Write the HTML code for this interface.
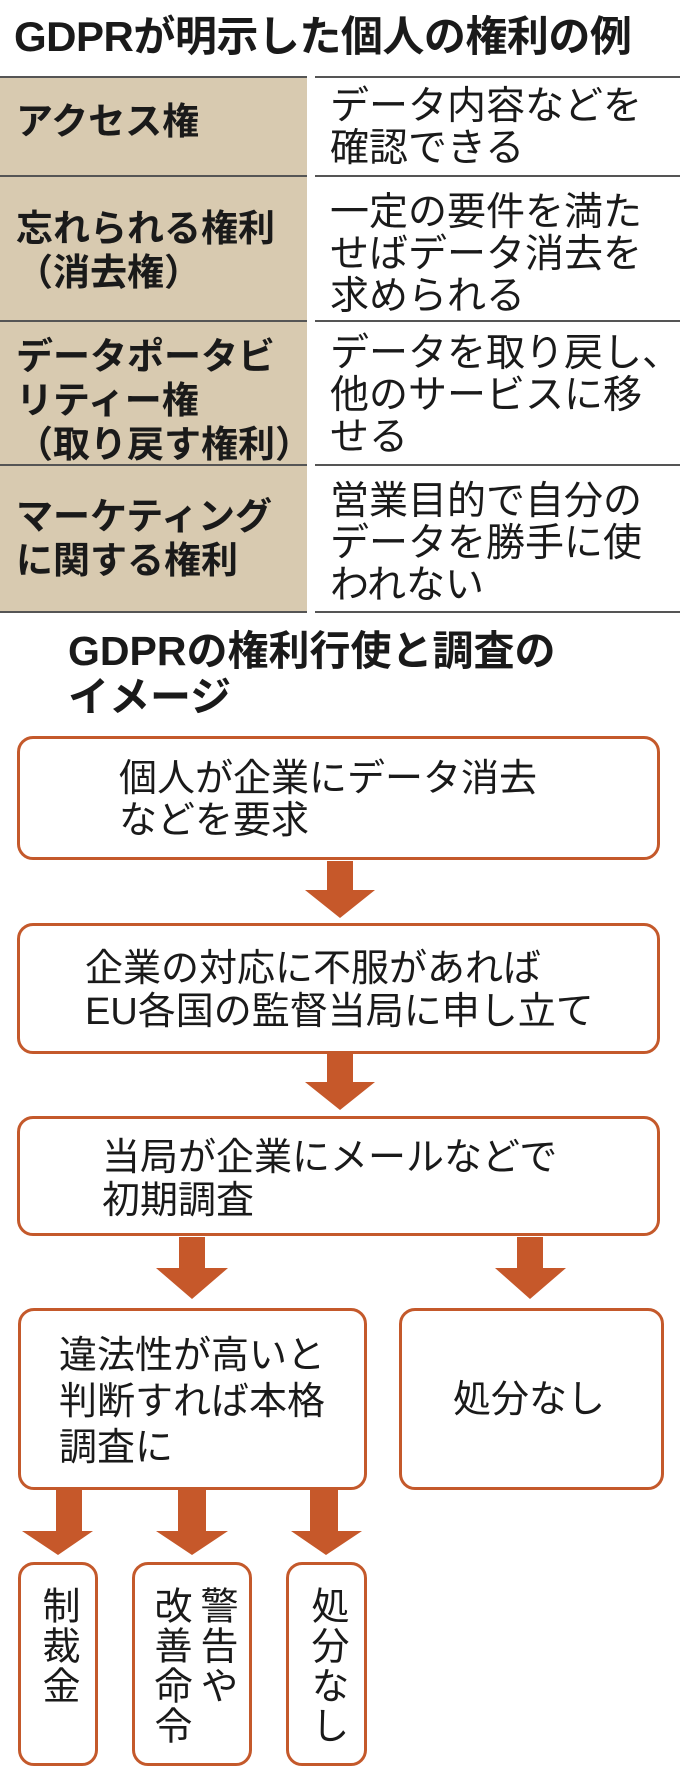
<!DOCTYPE html>
<html><head><meta charset="utf-8"><style>
body{margin:0;width:680px;height:1785px;background:#fff;position:relative;overflow:hidden;font-family:"Liberation Sans","Noto Sans CJK JP",sans-serif;color:#1a1a1a}
.a{position:absolute;white-space:nowrap}
.t{font-size:39px;line-height:42px}
.l{font-size:37px;line-height:44px;font-weight:bold}
.box{position:absolute;border:3px solid #c4592b;border-radius:16px;box-sizing:border-box;background:#fff}
.hl{position:absolute;height:2px;background:#555}
.v{position:absolute;writing-mode:vertical-rl;font-size:38px;line-height:46px;letter-spacing:2px}
</style></head><body>
<div class="a" style="left:14px;top:12px;font-size:42px;line-height:50px;font-weight:bold;letter-spacing:-0.5px">GDPRが明示した個人の権利の例</div>
<div style="position:absolute;left:0;top:76px;width:307px;height:537px;background:#d8cab0"></div>
<div class="hl" style="left:0;top:76px;width:307px"></div><div class="hl" style="left:315px;top:76px;width:365px"></div>
<div class="hl" style="left:0;top:175px;width:307px"></div><div class="hl" style="left:315px;top:175px;width:365px"></div>
<div class="hl" style="left:0;top:320px;width:307px"></div><div class="hl" style="left:315px;top:320px;width:365px"></div>
<div class="hl" style="left:0;top:464px;width:307px"></div><div class="hl" style="left:315px;top:464px;width:365px"></div>
<div class="hl" style="left:0;top:611px;width:307px"></div><div class="hl" style="left:315px;top:611px;width:365px"></div>

<div class="a l" style="left:16px;top:100px">アクセス権</div>
<div class="a t" style="left:330px;top:86px">データ内容などを<br>確認できる</div>
<div class="a l" style="left:16px;top:207px">忘れられる権利<br>（消去権）</div>
<div class="a t" style="left:330px;top:192px">一定の要件を満た<br>せばデータ消去を<br>求められる</div>
<div class="a l" style="left:16px;top:335px">データポータビ<br>リティー権<br>（取り戻す権利）</div>
<div class="a t" style="left:330px;top:333px">データを取り戻し、<br>他のサービスに移<br>せる</div>
<div class="a l" style="left:16px;top:495px">マーケティング<br>に関する権利</div>
<div class="a t" style="left:330px;top:481px">営業目的で自分の<br>データを勝手に使<br>われない</div>

<div class="a" style="left:68px;top:628px;font-size:41px;line-height:46px;font-weight:bold">GDPRの権利行使と調査の<br>イメージ</div>

<svg style="position:absolute;left:0;top:0" width="680" height="1785">
<g fill="#c6582a">
<polygon points="327,861 353,861 353,890 375,890 340,918 305,890 327,890"/>
<polygon points="327,1054 353,1054 353,1082 375,1082 340,1110 305,1082 327,1082"/>
<polygon points="179,1237 205,1237 205,1268 228,1268 192,1299 156,1268 179,1268"/>
<polygon points="517,1237 543,1237 543,1268 566,1268 530,1299 495,1268 517,1268"/>
<polygon points="56,1489 82,1489 82,1531 93,1531 58,1555 22,1531 56,1531"/>
<polygon points="178,1489 206,1489 206,1531 228,1531 192,1555 156,1531 178,1531"/>
<polygon points="310,1489 338,1489 338,1531 362,1531 326,1555 291,1531 310,1531"/>
</g></svg>

<div class="box" style="left:17px;top:736px;width:643px;height:124px"></div>
<div class="a" style="left:119px;top:758px;font-size:38px;line-height:42px">個人が企業にデータ消去<br>などを要求</div>
<div class="box" style="left:17px;top:923px;width:643px;height:131px"></div>
<div class="a" style="left:85px;top:948px;font-size:38px;line-height:43px">企業の対応に不服があれば<br>EU各国の監督当局に申し立て</div>
<div class="box" style="left:17px;top:1116px;width:643px;height:120px"></div>
<div class="a" style="left:102px;top:1137px;font-size:38px;line-height:43px">当局が企業にメールなどで<br>初期調査</div>

<div class="box" style="left:18px;top:1308px;width:349px;height:182px"></div>
<div class="a" style="left:59px;top:1333px;font-size:38px;line-height:46px">違法性が高いと<br>判断すれば本格<br>調査に</div>
<div class="box" style="left:399px;top:1308px;width:265px;height:182px"></div>
<div class="a" style="left:453px;top:1378px;font-size:38px;line-height:44px">処分なし</div>

<div class="box" style="left:18px;top:1562px;width:80px;height:204px"></div>
<div class="v" style="left:34px;top:1586px">制裁金</div>
<div class="box" style="left:132px;top:1562px;width:120px;height:204px"></div>
<div class="v" style="left:146px;top:1586px">警告や<br>改善命令</div>
<div class="box" style="left:286px;top:1562px;width:81px;height:204px"></div>
<div class="v" style="left:303px;top:1586px">処分なし</div>
</body></html>
